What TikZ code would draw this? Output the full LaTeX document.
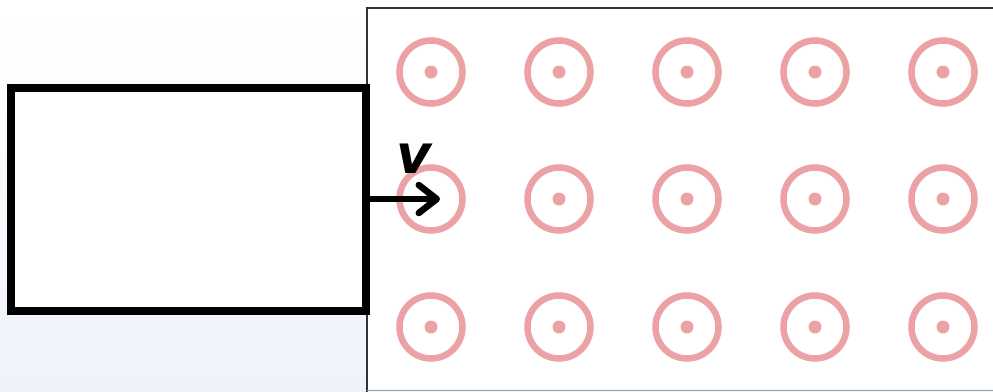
\documentclass[tikz,border=0pt]{standalone}
\usepackage{fontspec}
\setsansfont{DejaVu Sans}
\usetikzlibrary{arrows.meta}
\definecolor{ringred}{RGB}{236,162,164}
\definecolor{bgblue}{RGB}{238,243,250}
\begin{document}
\begin{tikzpicture}[x=1pt,y=-1pt,
  ring/.style={draw=ringred,line width=6.5pt},
  core/.style={fill=ringred},
  body/.style={draw=black,line width=8pt,fill=white,outer sep=0pt},
  vel/.style={draw=black,line width=6.5pt,-{Straight Barb[length=18pt,width=28pt,line width=6.5pt,round]}}]
\useasboundingbox (0,0) rectangle (993,391);
\shade[top color=white,bottom color=bgblue] (0,0) rectangle (993,391);
\fill[white] (368,9) rectangle (993,389);
\draw[draw=black!80,line width=2pt] (995,8) -- (367,8) -- (367,392);
\draw[draw=black!35,line width=1pt] (367,390) -- (995,390);
\foreach \i [count=\c] in {431,559,687,815,943}{
  \foreach \j [count=\r] in {72,199,327}{
    \node[circle,ring,minimum size=63pt,inner sep=0pt] (r\c\r) at (\i,\j) {};
    \node[circle,core,minimum size=13pt,inner sep=0pt] (d\c\r) at (\i,\j) {};
  }
}
\node[body,minimum width=355pt,minimum height=223pt,inner sep=0pt] (box) at (188.5,199.5) {};
\coordinate (tip) at (440,199);
\draw[vel] (box.east |- tip) -- (tip);
\node[font=\fontsize{54}{54}\selectfont\sffamily\bfseries\itshape] (v) at (414,159) {v};
\end{tikzpicture}
\end{document}
